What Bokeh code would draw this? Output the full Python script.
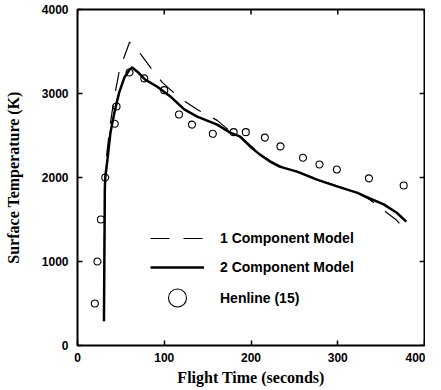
from bokeh.plotting import figure
from bokeh.models import Legend, LegendItem, Range1d, FixedTicker
from bokeh.embed import file_html
from bokeh.resources import INLINE

# 2 Component Model (solid)
two_x = [30.5, 31.5, 32, 34.5, 38, 42.5, 48, 54, 60, 63, 69, 78, 92, 107, 123, 138, 161,
         176, 187, 199, 210, 222, 233, 253, 276, 299, 322, 337, 353, 368, 379]
two_y = [290, 1860, 2000, 2210, 2535, 2770, 3010, 3190, 3285, 3310, 3260, 3165, 3080, 2965,
         2810, 2725, 2630, 2535, 2490, 2370, 2275, 2190, 2130, 2070, 1975, 1895, 1820, 1750,
         1680, 1580, 1475]

# 1 Component Model (dashed)
one_x = [30.5, 31.5, 32, 34, 38, 42, 48, 54, 60, 66, 73, 86, 98, 113, 124, 138, 153, 161,
         176, 187, 199, 210, 222, 233, 253, 276, 299, 322, 337, 353, 368, 379]
one_y = [290, 1860, 2030, 2310, 2650, 2930, 3260, 3440, 3610, 3560, 3465, 3285, 3130, 2990,
         2905, 2810, 2725, 2680, 2550, 2500, 2385, 2290, 2200, 2140, 2075, 1980, 1900, 1825,
         1735, 1610, 1490, 1360]

# Henline (15)
hen_x = [20, 23, 27, 32, 43, 45, 60, 77, 100, 117, 132, 156, 180, 194, 216, 234, 260, 279,
         299, 336, 376]
hen_y = [500, 1000, 1500, 2000, 2640, 2845, 3250, 3180, 3040, 2750, 2630, 2520, 2540, 2540,
         2475, 2370, 2235, 2155, 2095, 1990, 1905]

x_ticks = [0, 100, 200, 300, 400]
y_ticks = [0, 1000, 2000, 3000, 4000]
x_lo, x_hi = 0, 400
y_lo, y_hi = 0, 4000

p = figure(width=425, height=389, output_backend="svg", toolbar_location=None,
           x_range=Range1d(x_lo, x_hi), y_range=Range1d(y_lo, y_hi),
           min_border_left=77, min_border_right=1, min_border_top=9, min_border_bottom=44,
           x_axis_label="Flight Time (seconds)", y_axis_label="Surface Temperature (K)")
p.background_fill_color = "white"
p.border_fill_color = "white"
p.grid.visible = False
p.outline_line_color = "black"
p.outline_line_width = 2

p.xaxis.ticker = FixedTicker(ticks=x_ticks)
p.yaxis.ticker = FixedTicker(ticks=y_ticks)

for ax in p.axis:
    ax.axis_line_color = None
    ax.major_tick_in = 5
    ax.major_tick_out = 0
    ax.major_tick_line_color = "black"
    ax.major_tick_line_width = 1.5
    ax.minor_tick_line_color = None
    ax.major_label_text_font = "Liberation Sans"
    ax.major_label_text_font_style = "bold"
    ax.major_label_text_font_size = "12px"
    ax.major_label_text_color = "black"
    ax.axis_label_text_font = "Liberation Serif"
    ax.axis_label_text_font_style = "bold"
    ax.axis_label_text_font_size = "16px"
    ax.axis_label_text_color = "black"

p.xaxis.major_label_standoff = 7
p.xaxis.axis_label_standoff = 4
p.yaxis.major_label_standoff = 9
p.yaxis.axis_label_standoff = 17

# inward ticks on the top and right frame edges
tick_len_y = (y_hi - y_lo) * 0.015
tick_len_x = (x_hi - x_lo) * 0.014
p.segment(x0=x_ticks, y0=[y_hi] * len(x_ticks), x1=x_ticks, y1=[y_hi - tick_len_y] * len(x_ticks),
          line_color="black", line_width=1.5)
p.segment(x0=[x_hi] * len(y_ticks), y0=y_ticks, x1=[x_hi - tick_len_x] * len(y_ticks), y1=y_ticks,
          line_color="black", line_width=1.5)

r1 = p.line(one_x, one_y, line_color="black", line_width=1.2, line_dash="19 14")
r2 = p.line(two_x, two_y, line_color="black", line_width=2.5)
r3 = p.scatter(hen_x, hen_y, marker="circle", size=7, fill_color=None, line_color="black",
               line_width=1.1)

common = dict(glyph_width=54, label_standoff=16, padding=0, margin=0,
              label_text_font="Liberation Sans", label_text_font_style="bold",
              label_text_font_size="14px", label_text_color="black",
              background_fill_alpha=0, border_line_color=None)

legend_lines = Legend(items=[LegendItem(label="1 Component Model", renderers=[r1]),
                             LegendItem(label="2 Component Model", renderers=[r2])],
                      location=(73, 68), glyph_height=20, spacing=9, **common)
legend_pts = Legend(items=[LegendItem(label="Henline (15)", renderers=[r3])],
                    location=(73, 25), glyph_height=45, **common)
p.add_layout(legend_lines, "center")
p.add_layout(legend_pts, "center")

open("out.html", "w").write(file_html(p, INLINE))
